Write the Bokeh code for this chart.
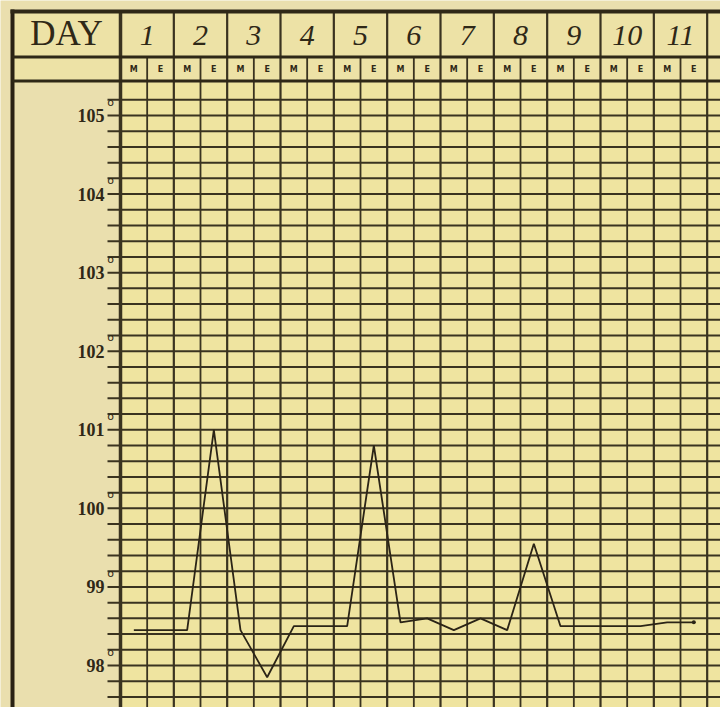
from bokeh.plotting import figure
from bokeh.models import Range1d, ColumnDataSource
from bokeh.core.properties import value
from bokeh.embed import file_html
from bokeh.resources import INLINE

# ---------------- data ----------------
day_labels = ["1", "2", "3", "4", "5", "6", "7", "8", "9", "10", "11"]
slot_labels = ["M", "E"]
temp_morning = [98.45, 98.45, 98.45, 98.5, 98.5, 98.55, 98.45, 98.45, 98.5, 98.5, 98.55]
temp_evening = [98.45, 101.0, 97.85, 98.5, 100.8, 98.6, 98.6, 99.55, 98.5, 98.5, 98.55]
degree_values = [98, 99, 100, 101, 102, 103, 104, 105]
degree_labels = ["98", "99", "100", "101", "102", "103", "104", "105"]

# ---------------- layout (reference pixels) ----------------
W, H = 720, 707
COL_PX = 26.667          # width of one M/E column
X_DAY1 = 120             # left edge of day 1
Y_105 = 115              # pixel row of 105 degrees
DEG_PX = 78.57           # pixels per degree

x_lo = (0 - X_DAY1) / COL_PX
x_hi = (W - X_DAY1) / COL_PX
t_hi = 105 + (Y_105 - 0) / DEG_PX
t_lo = 105 - (H - Y_105) / DEG_PX

INK = "#3a3320"
LINE_INK = "#2b2416"
MARGIN = "#eadfae"
HEADER = "#ede2a6"
PAPER = "#efe4a0"

p = figure(width=W, height=H, x_range=Range1d(x_lo, x_hi), y_range=Range1d(t_lo, t_hi),
           output_backend="svg", toolbar_location=None, min_border=0,
           x_axis_type=None, y_axis_type=None)
p.grid.visible = False
p.outline_line_color = None
p.background_fill_color = MARGIN
p.border_fill_color = MARGIN
p.extra_x_ranges = {"px": Range1d(0, W)}
p.extra_y_ranges = {"px": Range1d(H, 0)}

# paper areas
p.quad(left=[12], right=[730], top=[10], bottom=[82], fill_color=HEADER, line_color=None,
       x_range_name="px", y_range_name="px")
p.quad(left=[120], right=[730], top=[82], bottom=[720], fill_color=PAPER, line_color=None,
       x_range_name="px", y_range_name="px")

# horizontal rulings every 0.2 degree
n_rules = 39
rule_t = [round(97.6 + 0.2 * k, 1) for k in range(n_rules)]
p.segment(x0=[107] * n_rules, x1=[730] * n_rules, y0=rule_t, y1=rule_t,
          line_color=INK, line_width=2, x_range_name="px")

# vertical rulings: day dividers (full height) and M/E dividers (below header row)
n_cols = 2 * (len(day_labels) + 1)
day_div = [k for k in range(0, n_cols + 1, 2)]
me_div = [k for k in range(1, n_cols + 1, 2)]
p.segment(x0=day_div, x1=day_div, y0=[10] * len(day_div), y1=[720] * len(day_div),
          line_color=INK, line_width=2.2, y_range_name="px")
p.segment(x0=me_div, x1=me_div, y0=[57] * len(me_div), y1=[720] * len(me_div),
          line_color=INK, line_width=1.8, y_range_name="px")
p.segment(x0=[0], x1=[0], y0=[10], y1=[720], line_color=INK, line_width=3.5, y_range_name="px")

# frame and header lines
p.segment(x0=[12], x1=[12], y0=[9], y1=[720], line_color="#2a2214", line_width=4,
          x_range_name="px", y_range_name="px")
p.segment(x0=[10, 12, 12], x1=[730, 730, 730], y0=[11, 56.5, 80.5], y1=[11, 56.5, 80.5],
          line_color="#2f2817", line_width=[4, 3, 3], x_range_name="px", y_range_name="px")

# header texts
p.text(x=[66], y=[33], text=["DAY"], x_range_name="px", y_range_name="px",
       text_font=value("Liberation Serif"), text_font_size="35px", text_align="center",
       text_baseline="middle", text_color="#2f2817")
day_x = [2 * i + 1 for i in range(len(day_labels))]
p.text(x=day_x, y=[35] * len(day_labels), text=day_labels, y_range_name="px",
       text_font=value("Liberation Serif"), text_font_style="italic", text_font_size="30px",
       text_align="center", text_baseline="middle", text_color="#2f2817")
n_slots = 2 * len(day_labels)
slot_x = [k + 0.5 for k in range(n_slots)]
slot_txt = [slot_labels[k % 2] for k in range(n_slots)]
p.text(x=slot_x, y=[68.5] * n_slots, text=slot_txt, y_range_name="px",
       text_font=value("DejaVu Sans"), text_font_style="bold", text_font_size="8px",
       text_align="center", text_baseline="middle", text_color="#2f2817")

# degree labels
p.text(x=[104] * len(degree_values), y=degree_values, text=degree_labels, x_range_name="px",
       text_font=value("Liberation Serif"), text_font_style="bold", text_font_size="18px",
       text_align="right", text_baseline="middle", text_color="#2f2817")
p.text(x=[110] * len(degree_values), y=[v + 0.17 for v in degree_values],
       text=["o"] * len(degree_values), x_range_name="px",
       text_font=value("DejaVu Sans"), text_font_size="11px",
       text_align="center", text_baseline="middle", text_color="#2f2817")

# temperature trace
tx, ty = [], []
for i in range(len(day_labels)):
    tx += [2 * i + 0.5, 2 * i + 1.5]
    ty += [temp_morning[i], temp_evening[i]]
src = ColumnDataSource(dict(x=tx, y=ty))
p.line("x", "y", source=src, line_color=LINE_INK, line_width=1.8)
p.scatter(x=[tx[-1]], y=[ty[-1]], size=4, fill_color=LINE_INK, line_color=None)

open("out.html", "w").write(file_html(p, INLINE))
